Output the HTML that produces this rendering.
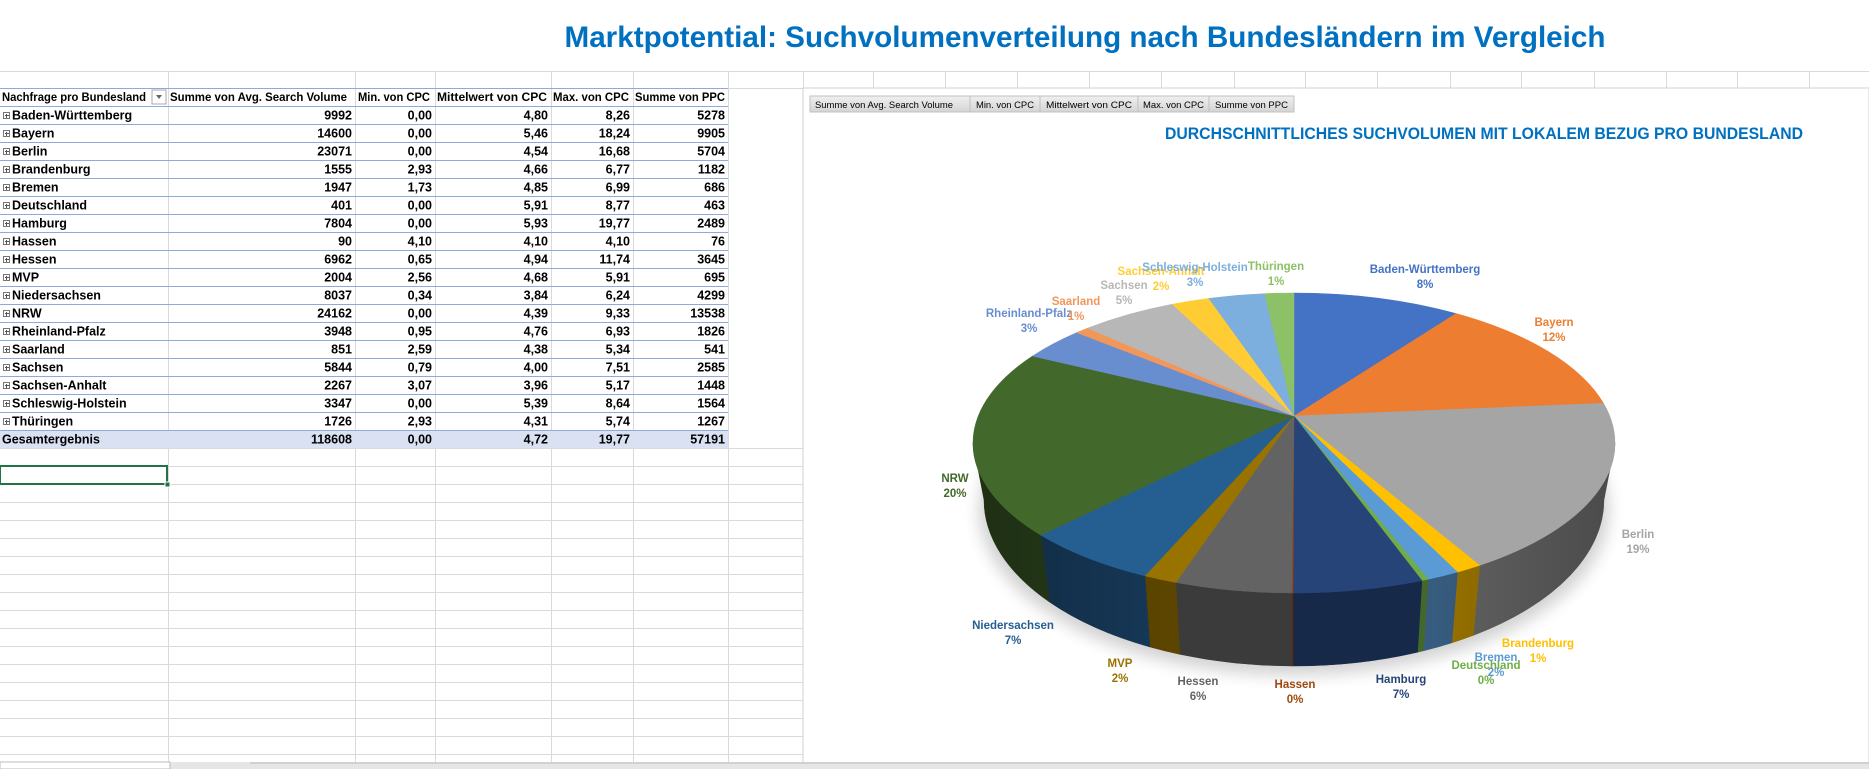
<!DOCTYPE html>
<html><head><meta charset="utf-8"><style>
html,body{margin:0;padding:0;background:#fff;}
svg{display:block;}
text{font-family:"Liberation Sans",sans-serif;}
</style></head><body>
<svg id="s" width="1869" height="769" viewBox="0 0 1869 769" xmlns="http://www.w3.org/2000/svg">
<defs>
<linearGradient id="btn" x1="0" y1="0" x2="0" y2="1"><stop offset="0" stop-color="#f0f0f0"/><stop offset="1" stop-color="#d4d4d4"/></linearGradient>
<linearGradient id="sideShade" x1="0" y1="0" x2="1" y2="0">
<stop offset="0" stop-color="#000" stop-opacity="0.25"/><stop offset="0.3" stop-color="#000" stop-opacity="0"/><stop offset="0.7" stop-color="#000" stop-opacity="0"/><stop offset="1" stop-color="#000" stop-opacity="0.25"/></linearGradient>
<filter id="blur"><feGaussianBlur stdDeviation="8"/></filter>
</defs>
<rect width="1869" height="769" fill="#fff"/>
<g id="grid" stroke="#dadada" stroke-width="1"></g>
<!-- title -->
<text x="1085" y="47" text-anchor="middle" font-size="30" font-weight="bold" fill="#0070C0" textLength="1041" lengthAdjust="spacingAndGlyphs">Marktpotential: Suchvolumenverteilung nach Bundesländern im Vergleich</text>
<!-- table -->
<g id="table"></g>
<g font-size="12" font-weight="bold" fill="#000">
<text x="2" y="101" textLength="144" lengthAdjust="spacingAndGlyphs">Nachfrage pro Bundesland</text>
<text x="170" y="101" textLength="177" lengthAdjust="spacingAndGlyphs">Summe von Avg. Search Volume</text>
<text x="358" y="101" textLength="72" lengthAdjust="spacingAndGlyphs">Min. von CPC</text>
<text x="437" y="101" textLength="110" lengthAdjust="spacingAndGlyphs">Mittelwert von CPC</text>
<text x="553" y="101" textLength="76" lengthAdjust="spacingAndGlyphs">Max. von CPC</text>
<text x="635" y="101" textLength="90" lengthAdjust="spacingAndGlyphs">Summe von PPC</text>
</g>
<g id="rows" font-size="12.5" font-weight="bold" fill="#000"></g>
<!-- selected cell -->
<rect x="0" y="466" width="167" height="18" fill="none" stroke="#217346" stroke-width="2"/>
<rect x="165" y="482" width="5" height="5" fill="#217346" stroke="#fff" stroke-width="1"/>
<!-- chart area -->
<rect x="803" y="88" width="1066" height="675" fill="#fff" stroke="#d0d0d0"/>
<g font-size="9.5" fill="#000">
<rect x="810" y="96" width="160" height="16" fill="url(#btn)" stroke="#c0c0c0"/>
<text x="815" y="108" textLength="138" lengthAdjust="spacingAndGlyphs">Summe von Avg. Search Volume</text>
<rect x="970" y="96" width="70" height="16" fill="url(#btn)" stroke="#c0c0c0"/>
<text x="976" y="108" textLength="58" lengthAdjust="spacingAndGlyphs">Min. von CPC</text>
<rect x="1040" y="96" width="98" height="16" fill="url(#btn)" stroke="#c0c0c0"/>
<text x="1046" y="108" textLength="86" lengthAdjust="spacingAndGlyphs">Mittelwert von CPC</text>
<rect x="1138" y="96" width="71" height="16" fill="url(#btn)" stroke="#c0c0c0"/>
<text x="1143" y="108" textLength="61" lengthAdjust="spacingAndGlyphs">Max. von CPC</text>
<rect x="1209" y="96" width="85" height="16" fill="url(#btn)" stroke="#c0c0c0"/>
<text x="1215" y="108" textLength="73" lengthAdjust="spacingAndGlyphs">Summe von PPC</text>
</g>
<text x="1484" y="139" text-anchor="middle" font-size="17" font-weight="bold" fill="#0070C0" textLength="638" lengthAdjust="spacingAndGlyphs">DURCHSCHNITTLICHES SUCHVOLUMEN MIT LOKALEM BEZUG PRO BUNDESLAND</text>
<ellipse cx="1294" cy="510" rx="315" ry="165" fill="#000" opacity="0.18" filter="url(#blur)"/>
<g id="pie"></g>
<g font-size="11.5" font-weight="bold" text-anchor="middle">
<text x="1425" y="273" fill="#4472C4">Baden-Württemberg</text><text x="1425" y="288" fill="#4472C4">8%</text>
<text x="1554" y="326" fill="#ED7D31">Bayern</text><text x="1554" y="341" fill="#ED7D31">12%</text>
<text x="1638" y="538" fill="#A5A5A5">Berlin</text><text x="1638" y="553" fill="#A5A5A5">19%</text>
<text x="1538" y="647" fill="#FFC000">Brandenburg</text><text x="1538" y="662" fill="#FFC000">1%</text>
<text x="1496" y="661" fill="#5B9BD5">Bremen</text><text x="1496" y="676" fill="#5B9BD5">2%</text>
<text x="1486" y="669" fill="#70AD47">Deutschland</text><text x="1486" y="684" fill="#70AD47">0%</text>
<text x="1401" y="683" fill="#264478">Hamburg</text><text x="1401" y="698" fill="#264478">7%</text>
<text x="1295" y="688" fill="#9E480E">Hassen</text><text x="1295" y="703" fill="#9E480E">0%</text>
<text x="1198" y="685" fill="#636363">Hessen</text><text x="1198" y="700" fill="#636363">6%</text>
<text x="1120" y="667" fill="#997300">MVP</text><text x="1120" y="682" fill="#997300">2%</text>
<text x="1013" y="629" fill="#255E91">Niedersachsen</text><text x="1013" y="644" fill="#255E91">7%</text>
<text x="955" y="482" fill="#43682B">NRW</text><text x="955" y="497" fill="#43682B">20%</text>
<text x="1029" y="317" fill="#698ED0">Rheinland-Pfalz</text><text x="1029" y="332" fill="#698ED0">3%</text>
<text x="1076" y="305" fill="#F1975A">Saarland</text><text x="1076" y="320" fill="#F1975A">1%</text>
<text x="1124" y="289" fill="#B7B7B7">Sachsen</text><text x="1124" y="304" fill="#B7B7B7">5%</text>
<text x="1161" y="275" fill="#FFCD33">Sachsen-Anhalt</text><text x="1161" y="290" fill="#FFCD33">2%</text>
<text x="1195" y="271" fill="#7CAFDD">Schleswig-Holstein</text><text x="1195" y="286" fill="#7CAFDD">3%</text>
<text x="1276" y="270" fill="#8CC168">Thüringen</text><text x="1276" y="285" fill="#8CC168">1%</text>
</g>
<!-- bottom bar -->
<rect x="0" y="762" width="1869" height="7" fill="#e6e6e6"/>
<rect x="0" y="762" width="170" height="7" fill="#fff" stroke="#bbb"/>
<line x1="250" y1="763" x2="1869" y2="763" stroke="#bbb"/>
</svg>
<script>
(function(){
var NS="http://www.w3.org/2000/svg";
function el(p,t,a){var e=document.createElementNS(NS,t);for(var k in a)e.setAttribute(k,a[k]);p.appendChild(e);return e;}
var g=document.getElementById('grid');
// top row line
el(g,'line',{x1:0,y1:71.5,x2:1869,y2:71.5});
el(g,'line',{x1:0,y1:88.5,x2:803,y2:88.5});
var cols=[168,355,435,551,633,728,803];
cols.forEach(function(x){el(g,'line',{x1:x+.5,y1:71,x2:x+.5,y2:763});});
[873,945,1017,1089,1161,1234,1305,1377,1450,1521,1594,1666,1737,1809].forEach(function(x){el(g,'line',{x1:x+.5,y1:71,x2:x+.5,y2:88});});
for(var y=448;y<763;y+=18)el(g,'line',{x1:0,y1:y+.5,x2:803,y2:y+.5});
// table
var t=document.getElementById('table');
el(t,'rect',{x:0,y:430,width:728,height:18,fill:'#D9E1F2'});
el(t,'rect',{x:152,y:90,width:14,height:14,fill:'#fff',stroke:'#aaa'});
el(t,'path',{d:'M156 95 L162 95 L159 99 Z',fill:'#666'});
for(var i=0;i<=18;i++){el(t,'line',{x1:0,y1:106+18*i+.5,x2:728,y2:106+18*i+.5,stroke:'#8EA9DB','stroke-width':1});}
el(t,'line',{x1:0,y1:88.5,x2:728,y2:88.5,stroke:'#8EA9DB'});
var data=[["Baden-Württemberg",9992,"0,00","4,80","8,26",5278],["Bayern",14600,"0,00","5,46","18,24",9905],["Berlin",23071,"0,00","4,54","16,68",5704],["Brandenburg",1555,"2,93","4,66","6,77",1182],["Bremen",1947,"1,73","4,85","6,99",686],["Deutschland",401,"0,00","5,91","8,77",463],["Hamburg",7804,"0,00","5,93","19,77",2489],["Hassen",90,"4,10","4,10","4,10",76],["Hessen",6962,"0,65","4,94","11,74",3645],["MVP",2004,"2,56","4,68","5,91",695],["Niedersachsen",8037,"0,34","3,84","6,24",4299],["NRW",24162,"0,00","4,39","9,33",13538],["Rheinland-Pfalz",3948,"0,95","4,76","6,93",1826],["Saarland",851,"2,59","4,38","5,34",541],["Sachsen",5844,"0,79","4,00","7,51",2585],["Sachsen-Anhalt",2267,"3,07","3,96","5,17",1448],["Schleswig-Holstein",3347,"0,00","5,39","8,64",1564],["Thüringen",1726,"2,93","4,31","5,74",1267],["Gesamtergebnis",118608,"0,00","4,72","19,77",57191]];
var r=document.getElementById('rows');
var rx=[352,432,548,630,725];
data.forEach(function(d,i){
  var yb=106+18*i+13.5;
  var lab=el(r,'text',{x:i<18?12:2,y:yb});lab.textContent=d[0];
  if(i<18){el(t,'rect',{x:3.5,y:106+18*i+6.5,width:6,height:6,fill:'#fff',stroke:'#777','stroke-width':1});
    el(t,'line',{x1:5,y1:106+18*i+9.5,x2:9,y2:106+18*i+9.5,stroke:'#555'});el(t,'line',{x1:6.5,y1:106+18*i+8,x2:6.5,y2:106+18*i+12,stroke:'#555'});}
  for(var c=1;c<=5;c++){var tx=el(r,'text',{x:rx[c-1],y:yb,'text-anchor':'end'});tx.textContent=String(d[c]);}
});
// pie
var vals=[9992,14600,23071,1555,1947,401,7804,90,6962,2004,8037,24162,3948,851,5844,2267,3347,1726];
var colors=["#4472C4","#ED7D31","#A5A5A5","#FFC000","#5B9BD5","#70AD47","#264478","#9E480E","#636363","#997300","#255E91","#43682B","#698ED0","#F1975A","#B7B7B7","#FFCD33","#7CAFDD","#8CC168"];
var sum=vals.reduce(function(a,b){return a+b},0);
var cx=1294,cy=443,rxx=321,ryy=150,cy2=500,rx2=310,ry2=166,ax=1294,ay=416;
function P(a){return [cx+rxx*Math.sin(a),cy-ryy*Math.cos(a)];}
function Q(a){return [cx+rx2*Math.sin(a),cy2-ry2*Math.cos(a)];}
function dark(h,f){var n=parseInt(h.slice(1),16);var R=(n>>16)&255,G=(n>>8)&255,B=n&255;return 'rgb('+Math.round(R*f)+','+Math.round(G*f)+','+Math.round(B*f)+')';}
var pg=document.getElementById('pie');
var cum=0,angles=[];
vals.forEach(function(v){var a1=cum/sum*2*Math.PI;cum+=v;var a2=cum/sum*2*Math.PI;angles.push([a1,a2]);});
// sides
var sides=el(pg,'g',{});
angles.forEach(function(a,i){
  var s=Math.max(a[0],Math.PI/2),e=Math.min(a[1],3*Math.PI/2);
  if(e<=s)return;
  var p1=P(s),p2=P(e),q2=Q(e),q1=Q(s);
  var d='M'+p1+' A'+rxx+' '+ryy+' 0 0 1 '+p2+' L'+q2+' A'+rx2+' '+ry2+' 0 0 0 '+q1+' Z';
  el(sides,'path',{d:d,fill:dark(colors[i],0.6),stroke:dark(colors[i],0.6),'stroke-width':0.5});
});
var pa=P(Math.PI/2),pb=P(3*Math.PI/2),qa=Q(Math.PI/2),qb=Q(3*Math.PI/2);
el(pg,'path',{d:'M'+pa+' A'+rxx+' '+ryy+' 0 0 1 '+pb+' L'+qb+' A'+rx2+' '+ry2+' 0 0 0 '+qa+' Z',fill:'url(#sideShade)'});
// top
angles.forEach(function(a,i){
  var p1=P(a[0]),p2=P(a[1]);
  var large=(a[1]-a[0])>Math.PI?1:0;
  el(pg,'path',{d:'M'+ax+','+ay+' L'+p1+' A'+rxx+' '+ryy+' 0 '+large+' 1 '+p2+' Z',fill:colors[i],stroke:colors[i],'stroke-width':0.5});
});
})();
</script>
</body></html>
